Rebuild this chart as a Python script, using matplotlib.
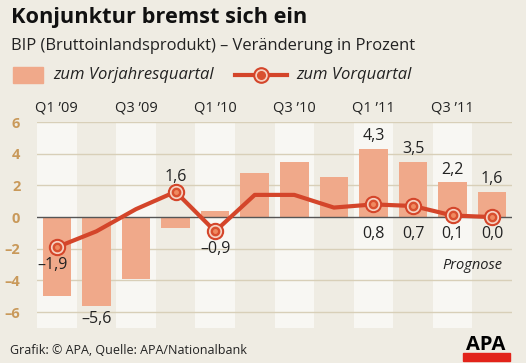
import numpy as np
import matplotlib
matplotlib.use('Agg')
import matplotlib.pyplot as plt
from matplotlib.patches import Rectangle

plt.rcParams['font.family'] = ['Open Sans', 'DejaVu Sans']

# data (percent change)
quarters = ['Q1 ’09', 'Q2 ’09', 'Q3 ’09', 'Q4 ’09', 'Q1 ’10', 'Q2 ’10',
            'Q3 ’10', 'Q4 ’10', 'Q1 ’11', 'Q2 ’11', 'Q3 ’11', 'Q4 ’11']
vorjahr = [-5.0, -5.6, -3.9, -0.7, 0.4, 2.8, 3.5, 2.5, 4.3, 3.5, 2.2, 1.6]
vorquartal = [-1.9, -0.9, 0.5, 1.6, -0.9, 1.4, 1.4, 0.6, 0.8, 0.7, 0.1, 0.0]
bar_labels = {1: '–5,6', 8: '4,3', 9: '3,5', 10: '2,2', 11: '1,6'}
line_labels = {0: '–1,9', 3: '1,6', 4: '–0,9', 8: '0,8', 9: '0,7', 10: '0,1', 11: '0,0'}
yticks = [-6, -4, -2, 0, 2, 4, 6]

bg = '#efece3'
stripe = '#f8f7f3'
bar_col = '#f0a98a'
red = '#d4452a'
tan = '#c9995a'
grid_col = '#d8cfb8'
txt = '#222222'

W, H = 526, 363
fig = plt.figure(figsize=(W / 100, H / 100), dpi=100, facecolor=bg)


def fx(px):
    return px / W


def fy(py):
    return 1 - py / H


ax = fig.add_axes([fx(37), fy(328), fx(512) - fx(37), fy(122) - fy(328)])
ax.set_facecolor(bg)
ax.set_xlim(-0.5, 11.5)
ax.set_ylim(-7, 6)
for s in ax.spines.values():
    s.set_visible(False)

x = np.arange(len(quarters))

# light stripes for odd quarters
for i in range(0, len(quarters), 2):
    ax.axvspan(i - 0.5, i + 0.5, color=stripe, zorder=0, lw=0)

for y in yticks:
    if y != 0:
        ax.axhline(y, color=grid_col, lw=1, zorder=1)
ax.axhline(0, color='#555555', lw=1, zorder=3)

ax.bar(x, vorjahr, width=0.72, color=bar_col, zorder=2)

ax.plot(x, vorquartal, color=red, lw=3, zorder=4, solid_joinstyle='round')
mk = list(line_labels.keys())
mx = x[mk]
my = np.array(vorquartal)[mk]
ax.plot(mx, my, 'o', ms=11.5, color=red, zorder=5)
ax.plot(mx, my, 'o', ms=8.5, color='#f6d2c2', zorder=6)
ax.plot(mx, my, 'o', ms=6, color='#d9502f', zorder=7)
ax.plot(mx, my, 'o', ms=2.5, color='#f08a60', zorder=8)

ax.set_xticks([])
ax.set_yticks(yticks)
ax.set_yticklabels([str(v).replace('-', '–') for v in yticks])
ax.tick_params(axis='y', length=0, pad=12, labelsize=10.5, labelcolor=tan)
for t in ax.get_yticklabels():
    t.set_fontweight('bold')

# quarter labels on top
for i in range(0, len(quarters), 2):
    ax.text(i, 6.9, quarters[i], ha='center', va='center', fontsize=10.5, color=txt)

# value labels
for i, lab in bar_labels.items():
    v = vorjahr[i]
    if v < 0:
        ax.text(i, v - 0.85, lab, ha='center', va='center', fontsize=11.5, color=txt, zorder=9)
    else:
        ax.text(i, v + 0.8, lab, ha='center', va='center', fontsize=11.5, color=txt, zorder=9)
for i, lab in line_labels.items():
    v = vorquartal[i]
    if i == 3:
        ax.text(i, v + 0.95, lab, ha='center', va='center', fontsize=11.5, color=txt, zorder=9)
    elif i == 0:
        ax.text(i - 0.1, v - 1.1, lab, ha='center', va='center', fontsize=11.5, color=txt, zorder=9)
    elif i == 4:
        ax.text(i, v - 1.1, lab, ha='center', va='center', fontsize=11.5, color=txt, zorder=9)
    else:
        ax.text(i, -1.05, lab, ha='center', va='center', fontsize=11.5, color=txt, zorder=9)

ax.text(10.5, -3.05, 'Prognose', ha='center', va='center', fontsize=10.5, style='italic', color=txt)

# header
fig.text(fx(11), fy(18), 'Konjunktur bremst sich ein', fontsize=15.7, fontweight='bold',
         va='center', ha='left', color='#111111')
fig.text(fx(11), fy(46), 'BIP (Bruttoinlandsprodukt) – Veränderung in Prozent', fontsize=11.9,
         va='center', ha='left', color=txt)

# legend
fig.patches.append(Rectangle((fx(13), fy(83)), fx(43) - fx(13), fy(67) - fy(83),
                             transform=fig.transFigure, color=bar_col))
fig.text(fx(53), fy(75), 'zum Vorjahresquartal', fontsize=12, style='italic', va='center', color=txt)
fig.lines.append(plt.Line2D([fx(235), fx(287)], [fy(75), fy(75)], transform=fig.transFigure,
                            color=red, lw=3))
fig.lines.append(plt.Line2D([fx(261)], [fy(75)], transform=fig.transFigure, marker='o', ms=11,
                            color=red))
fig.lines.append(plt.Line2D([fx(261)], [fy(75)], transform=fig.transFigure, marker='o', ms=8,
                            color='#f6d2c2'))
fig.lines.append(plt.Line2D([fx(261)], [fy(75)], transform=fig.transFigure, marker='o', ms=5.5,
                            color='#d9502f'))
fig.text(fx(296), fy(75), 'zum Vorquartal', fontsize=12, style='italic', va='center', color=txt)

# footer
fig.text(fx(10), fy(351), 'Grafik: © APA, Quelle: APA/Nationalbank', fontsize=9,
         va='center', ha='left', color=txt)
fig.text(fx(486), fy(345), 'APA', fontsize=14.5, fontweight='bold', ha='center', va='center',
         color='#000000')
fig.patches.append(Rectangle((fx(463), fy(361)), fx(510) - fx(463), fy(353) - fy(361),
                             transform=fig.transFigure, color='#e2231a'))

fig.savefig('out.png', dpi=100, facecolor=bg)
